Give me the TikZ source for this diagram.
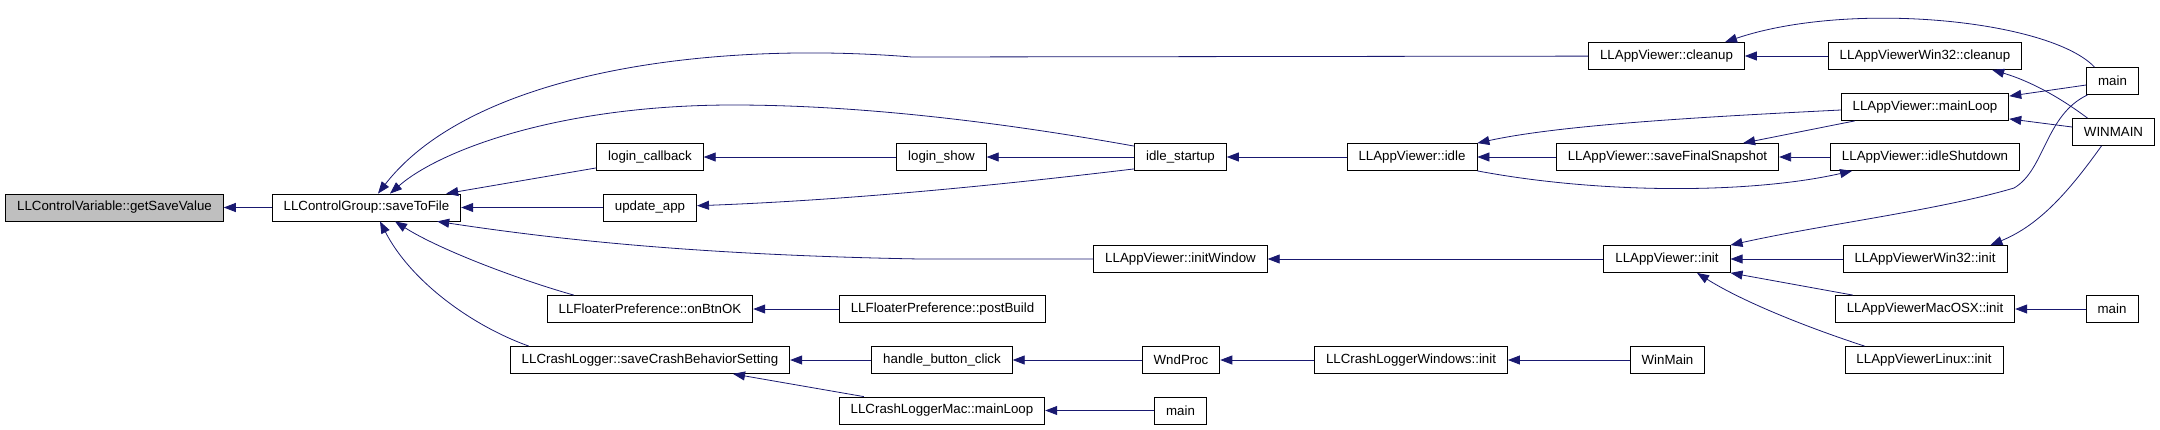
\documentclass[tikz,border=0pt]{standalone}
\usepackage{fontspec}
\setmainfont{Liberation Sans}
\usepackage{tikz}
\usetikzlibrary{positioning,arrows.meta}
\definecolor{edgeblue}{HTML}{191970}
\definecolor{rootgray}{HTML}{BFBFBF}
\tikzset{node distance=50.5pt, auto,
         >={Triangle[length=12pt,width=9pt]},
         func/.style={draw, line width=0.8pt, rectangle, minimum height=27pt, inner xsep=11.5pt, inner ysep=0pt},
         root/.style={func, fill=rootgray},
         call/.style={<-, draw=edgeblue, line width=0.8pt}}

\begin{document}
\begin{tikzpicture}[x=1pt, y=-1pt, font=\fontsize{13.3}{16}\selectfont]

             \useasboundingbox (0,0) rectangle (2160,429);

             \node (gsv) [root] at (114.5,207.5) {LLControlVariable::getSaveValue};
             \node (stf) [func, right of=gsv, node distance=252pt] {LLControlGroup::saveToFile};

             \node (upd) [func, right of=stf, node distance=283.5pt] {update\_app};
             \node (logcb) [func, above of=upd] {login\_callback};
             \node (logshow) [func, right of=logcb, node distance=291.5pt] {login\_show};
             \node (idlest) [func, right of=logshow, node distance=239pt] {idle\_startup};
             \node (idle) [func, right of=idlest, node distance=231.5pt] {LLAppViewer::idle};
             \node (sfs) [func, right of=idle, node distance=255.5pt] {LLAppViewer::saveFinalSnapshot};
             \node (idlesd) [func, right of=sfs, node distance=257.5pt] {LLAppViewer::idleShutdown};

             \node (mainloop) [func, above of=idlesd, node distance=50pt] {LLAppViewer::mainLoop};
             \node (w32cleanup) [func, above of=mainloop, node distance=51pt] {LLAppViewerWin32::cleanup};
             \node (cleanup) [func, left of=w32cleanup, node distance=258.5pt] {LLAppViewer::cleanup};
             \node (maintop) [func, right of=w32cleanup, node distance=187.5pt, yshift=-25pt] {main};
             \node (winmain) [func, right of=mainloop, node distance=188.5pt, yshift=-25pt] {WINMAIN};

             \node (initw) [func, below of=idlest, node distance=102pt] {LLAppViewer::initWindow};
             \node (init) [func, right of=initw, node distance=486.5pt] {LLAppViewer::init};
             \node (w32init) [func, right of=init, node distance=258pt] {LLAppViewerWin32::init};
             \node (macinit) [func, below of=w32init, node distance=50pt] {LLAppViewerMacOSX::init};
             \node (mainmac) [func, right of=macinit, node distance=187pt] {main};

             \node (onbtn) [func, below of=upd, node distance=101.5pt] {LLFloaterPreference::onBtnOK};
             \node (postbuild) [func, right of=onbtn, node distance=292.5pt] {LLFloaterPreference::postBuild};

             \node (savecrash) [func, below of=onbtn, node distance=51pt] {LLCrashLogger::saveCrashBehaviorSetting};
             \node (handle) [func, right of=savecrash, node distance=292pt] {handle\_button\_click};
             \node (wndproc) [func, right of=handle, node distance=239pt] {WndProc};
             \node (clwinit) [func, right of=wndproc, node distance=230pt] {LLCrashLoggerWindows::init};
             \node (winmain2) [func, right of=clwinit, node distance=256.5pt] {WinMain};
             \node (linuxinit) [func, right of=winmain2, node distance=256.5pt] {LLAppViewerLinux::init};

             \node (cmloop) [func, below of=handle] {LLCrashLoggerMac::mainLoop};
             \node (maincm) [func, right of=cmloop, node distance=238.5pt] {main};

             \draw [call] (gsv) -- (stf);
             \draw [call] ([xshift=11.5pt]stf.north) .. controls (470,75) and (700,40) .. (912,57) -- (cleanup);
             \draw [call] ([xshift=23.5pt]stf.north) .. controls (440,150) and (560,105) .. (733,105)
                                 .. controls (860,105) and (1000,122) .. ([yshift=-3pt]idlest.north west);
             \draw [call] ([xshift=-15pt]stf.north east) -- ([yshift=3pt]logcb.south west);
             \draw [call] (stf) -- (upd);
             \draw [call] ([xshift=-24pt]stf.south east) .. controls (560,240) and (700,255) .. (920,259) -- (initw);
             \draw [call] ([xshift=28.5pt]stf.south) .. controls (440,250) and (520,280) .. ([xshift=27pt]onbtn.north west);
             \draw [call] ([xshift=13.5pt]stf.south) .. controls (410,280) and (470,325) .. ([xshift=19pt]savecrash.north west);

             \draw [call] (logcb) -- (logshow);
             \draw [call] (logshow) -- (idlest);
             \draw [call] (upd) .. controls (850,200) and (1000,185) .. ([yshift=2pt]idlest.south west);
             \draw [call] (idlest) -- (idle);
             \draw [call] (idle) -- (sfs);
             \draw [call] (sfs) -- (idlesd);
             \draw [call] (idle.north east) .. controls (1560,125) and (1700,117) .. ([yshift=-3pt]mainloop.west);
             \draw [call] ([xshift=-36pt]sfs.north east) -- ([xshift=14pt]mainloop.south west);
             \draw [call] ([xshift=22pt]idlesd.south west) .. controls (1750,194) and (1600,194) .. (idle.south east);

             \draw [call] (cleanup) -- (w32cleanup);
             \draw [call] ([xshift=58.5pt]cleanup.north) .. controls (1850,0) and (2050,20) .. ([xshift=-18pt]maintop.north);
             \draw [call] ([yshift=-3pt]mainloop.north east) -- ([yshift=-4pt]maintop.west);
             \draw [call] ([yshift=2pt]mainloop.south east) -- ([yshift=5pt]winmain.west);
             \draw [call] ([xshift=-30pt]w32cleanup.south east) .. controls (2020,78) and (2050,90) .. ([xshift=-26pt]winmain.north);

             \draw [call] (initw) -- (init);
             \draw [call] (init.north east) .. controls (1820,225) and (1940,210) .. (2014,188)
                                 .. controls (2045,170) and (2045,115) .. ([xshift=-25pt]maintop.south);
             \draw [call] ([xshift=-17pt]w32init.north east) .. controls (2040,225) and (2070,190) .. ([xshift=-12pt]winmain.south);
             \draw [call] (init) -- (w32init);
             \draw [call] (init.south east) -- ([xshift=18pt]macinit.north west);
             \draw [call] ([xshift=30pt]init.south) .. controls (1740,300) and (1800,325) .. ([xshift=20pt]linuxinit.north west);
             \draw [call] (macinit) -- (mainmac);

             \draw [call] (onbtn) -- (postbuild);
             \draw [call] (savecrash) -- (handle);
             \draw [call] ([xshift=83pt]savecrash.south) -- ([xshift=25pt]cmloop.north west);
             \draw [call] (handle) -- (wndproc);
             \draw [call] (wndproc) -- (clwinit);
             \draw [call] (clwinit) -- (winmain2);
             \draw [call] (cmloop) -- (maincm);

          \end{tikzpicture}
\end{document}
